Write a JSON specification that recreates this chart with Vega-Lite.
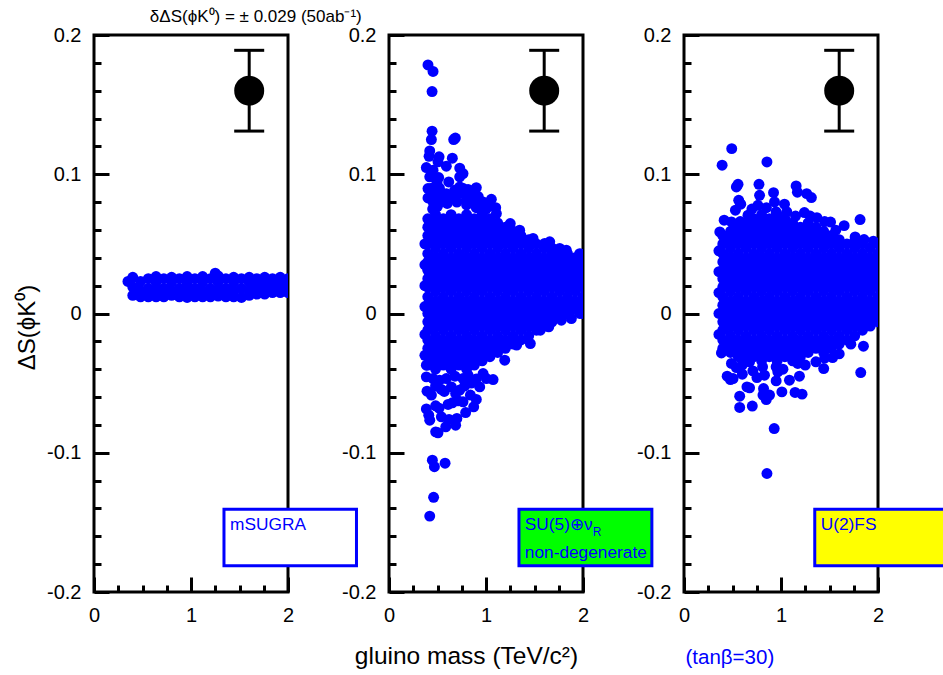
{"$schema":"https://vega.github.io/schema/vega-lite/v6.json","background":"white","padding":{"left":13,"top":6,"right":0,"bottom":0},"spacing":101,"bounds":"flush","config":{"view":{"stroke":"black","strokeWidth":3},"font":"Liberation Sans","axis":{"labelFont":"Liberation Sans","titleFont":"Liberation Sans","labelFontSize":20,"labelColor":"black","tickColor":"black","tickWidth":3,"tickCount":50,"domain":false,"grid":false,"labelOverlap":false,"labelFlush":false,"titleFontWeight":"normal"},"text":{"font":"Liberation Sans","baseline":"alphabetic","align":"left"}},"datasets":{"marker":[{"m":1.6,"s":0.16,"lo":0.131,"hi":0.189}],
"p1":[{"m":0.35,"s":0.023},{"m":0.4,"s":0.013},{"m":0.4,"s":0.019},{"m":0.4,"s":0.026},{"m":0.48,"s":0.012},{"m":0.48,"s":0.0165},{"m":0.48,"s":0.023},{"m":0.56,"s":0.012},{"m":0.56,"s":0.018},{"m":0.56,"s":0.025},{"m":0.64,"s":0.012},{"m":0.64,"s":0.0165},{"m":0.64,"s":0.0225},{"m":0.64,"s":0.0265},{"m":0.72,"s":0.012},{"m":0.72,"s":0.018},{"m":0.72,"s":0.025},{"m":0.8,"s":0.013},{"m":0.8,"s":0.0165},{"m":0.8,"s":0.0225},{"m":0.8,"s":0.026},{"m":0.88,"s":0.012},{"m":0.88,"s":0.018},{"m":0.88,"s":0.025},{"m":0.96,"s":0.0115},{"m":0.96,"s":0.0165},{"m":0.96,"s":0.022},{"m":0.96,"s":0.0265},{"m":1.04,"s":0.012},{"m":1.04,"s":0.018},{"m":1.04,"s":0.025},{"m":1.12,"s":0.012},{"m":1.12,"s":0.0165},{"m":1.12,"s":0.0225},{"m":1.12,"s":0.0265},{"m":1.2,"s":0.012},{"m":1.2,"s":0.018},{"m":1.2,"s":0.025},{"m":1.25,"s":0.029},{"m":1.28,"s":0.0125},{"m":1.28,"s":0.0165},{"m":1.28,"s":0.0225},{"m":1.28,"s":0.027},{"m":1.36,"s":0.012},{"m":1.36,"s":0.018},{"m":1.36,"s":0.025},{"m":1.44,"s":0.012},{"m":1.44,"s":0.0165},{"m":1.44,"s":0.0225},{"m":1.44,"s":0.026},{"m":1.52,"s":0.0115},{"m":1.52,"s":0.018},{"m":1.52,"s":0.025},{"m":1.6,"s":0.013},{"m":1.6,"s":0.0165},{"m":1.6,"s":0.0225},{"m":1.6,"s":0.026},{"m":1.68,"s":0.014},{"m":1.68,"s":0.019},{"m":1.68,"s":0.025},{"m":1.76,"s":0.014},{"m":1.76,"s":0.0185},{"m":1.76,"s":0.023},{"m":1.76,"s":0.026},{"m":1.84,"s":0.015},{"m":1.84,"s":0.02},{"m":1.84,"s":0.025},{"m":1.92,"s":0.015},{"m":1.92,"s":0.0185},{"m":1.92,"s":0.023},{"m":1.92,"s":0.026},{"m":2,"s":0.015},{"m":2,"s":0.02},{"m":2,"s":0.025}],
"p2":[{"m":0.37,"s":-0.03},{"m":0.37,"s":-0.015},{"m":0.37,"s":0.005},{"m":0.37,"s":0.02},{"m":0.37,"s":0.035},{"m":0.37,"s":0.05},
{"m":0.4,"s":-0.037},{"m":0.4,"s":-0.031},{"m":0.4,"s":-0.025},{"m":0.4,"s":-0.019},{"m":0.4,"s":-0.012},{"m":0.4,"s":-0.006},{"m":0.4,"s":0},{"m":0.4,"s":0.006},{"m":0.4,"s":0.012},{"m":0.4,"s":0.019},{"m":0.4,"s":0.025},{"m":0.4,"s":0.031},{"m":0.4,"s":0.037},{"m":0.4,"s":0.043},{"m":0.4,"s":0.05},{"m":0.4,"s":0.056},{"m":0.4,"s":0.062},{"m":0.4,"s":0.068},
{"m":0.48,"s":-0.04},{"m":0.48,"s":-0.034},{"m":0.48,"s":-0.028},{"m":0.48,"s":-0.022},{"m":0.48,"s":-0.016},{"m":0.48,"s":-0.009},{"m":0.48,"s":-0.003},{"m":0.48,"s":0.003},{"m":0.48,"s":0.009},{"m":0.48,"s":0.016},{"m":0.48,"s":0.022},{"m":0.48,"s":0.028},{"m":0.48,"s":0.034},{"m":0.48,"s":0.04},{"m":0.48,"s":0.047},{"m":0.48,"s":0.053},{"m":0.48,"s":0.059},{"m":0.48,"s":0.065},{"m":0.48,"s":0.071},
{"m":0.56,"s":-0.037},{"m":0.56,"s":-0.031},{"m":0.56,"s":-0.025},{"m":0.56,"s":-0.019},{"m":0.56,"s":-0.012},{"m":0.56,"s":-0.006},{"m":0.56,"s":0},{"m":0.56,"s":0.006},{"m":0.56,"s":0.012},{"m":0.56,"s":0.019},{"m":0.56,"s":0.025},{"m":0.56,"s":0.031},{"m":0.56,"s":0.037},{"m":0.56,"s":0.043},{"m":0.56,"s":0.05},{"m":0.56,"s":0.056},{"m":0.56,"s":0.062},{"m":0.56,"s":0.068},
{"m":0.64,"s":-0.04},{"m":0.64,"s":-0.034},{"m":0.64,"s":-0.028},{"m":0.64,"s":-0.022},{"m":0.64,"s":-0.016},{"m":0.64,"s":-0.009},{"m":0.64,"s":-0.003},{"m":0.64,"s":0.003},{"m":0.64,"s":0.009},{"m":0.64,"s":0.016},{"m":0.64,"s":0.022},{"m":0.64,"s":0.028},{"m":0.64,"s":0.034},{"m":0.64,"s":0.04},{"m":0.64,"s":0.047},{"m":0.64,"s":0.053},{"m":0.64,"s":0.059},{"m":0.64,"s":0.065},{"m":0.64,"s":0.071},
{"m":0.72,"s":-0.037},{"m":0.72,"s":-0.031},{"m":0.72,"s":-0.025},{"m":0.72,"s":-0.019},{"m":0.72,"s":-0.012},{"m":0.72,"s":-0.006},{"m":0.72,"s":0},{"m":0.72,"s":0.006},{"m":0.72,"s":0.012},{"m":0.72,"s":0.019},{"m":0.72,"s":0.025},{"m":0.72,"s":0.031},{"m":0.72,"s":0.037},{"m":0.72,"s":0.043},{"m":0.72,"s":0.05},{"m":0.72,"s":0.056},{"m":0.72,"s":0.062},{"m":0.72,"s":0.068},
{"m":0.8,"s":-0.04},{"m":0.8,"s":-0.034},{"m":0.8,"s":-0.028},{"m":0.8,"s":-0.022},{"m":0.8,"s":-0.016},{"m":0.8,"s":-0.009},{"m":0.8,"s":-0.003},{"m":0.8,"s":0.003},{"m":0.8,"s":0.009},{"m":0.8,"s":0.016},{"m":0.8,"s":0.022},{"m":0.8,"s":0.028},{"m":0.8,"s":0.034},{"m":0.8,"s":0.04},{"m":0.8,"s":0.047},{"m":0.8,"s":0.053},{"m":0.8,"s":0.059},{"m":0.8,"s":0.065},{"m":0.8,"s":0.071},
{"m":0.88,"s":-0.037},{"m":0.88,"s":-0.031},{"m":0.88,"s":-0.025},{"m":0.88,"s":-0.019},{"m":0.88,"s":-0.012},{"m":0.88,"s":-0.006},{"m":0.88,"s":0},{"m":0.88,"s":0.006},{"m":0.88,"s":0.012},{"m":0.88,"s":0.019},{"m":0.88,"s":0.025},{"m":0.88,"s":0.031},{"m":0.88,"s":0.037},{"m":0.88,"s":0.043},{"m":0.88,"s":0.05},{"m":0.88,"s":0.056},{"m":0.88,"s":0.062},{"m":0.88,"s":0.068},
{"m":0.96,"s":-0.034},{"m":0.96,"s":-0.028},{"m":0.96,"s":-0.022},{"m":0.96,"s":-0.016},{"m":0.96,"s":-0.009},{"m":0.96,"s":-0.003},{"m":0.96,"s":0.003},{"m":0.96,"s":0.009},{"m":0.96,"s":0.016},{"m":0.96,"s":0.022},{"m":0.96,"s":0.028},{"m":0.96,"s":0.034},{"m":0.96,"s":0.04},{"m":0.96,"s":0.047},{"m":0.96,"s":0.053},{"m":0.96,"s":0.059},{"m":0.96,"s":0.065},{"m":0.96,"s":0.071},
{"m":1.04,"s":-0.031},{"m":1.04,"s":-0.025},{"m":1.04,"s":-0.019},{"m":1.04,"s":-0.012},{"m":1.04,"s":-0.006},{"m":1.04,"s":0},{"m":1.04,"s":0.006},{"m":1.04,"s":0.012},{"m":1.04,"s":0.019},{"m":1.04,"s":0.025},{"m":1.04,"s":0.031},{"m":1.04,"s":0.037},{"m":1.04,"s":0.043},{"m":1.04,"s":0.05},{"m":1.04,"s":0.056},{"m":1.04,"s":0.062},{"m":1.04,"s":0.068},
{"m":1.12,"s":-0.028},{"m":1.12,"s":-0.022},{"m":1.12,"s":-0.016},{"m":1.12,"s":-0.009},{"m":1.12,"s":-0.003},{"m":1.12,"s":0.003},{"m":1.12,"s":0.009},{"m":1.12,"s":0.016},{"m":1.12,"s":0.022},{"m":1.12,"s":0.028},{"m":1.12,"s":0.034},{"m":1.12,"s":0.04},{"m":1.12,"s":0.047},{"m":1.12,"s":0.053},{"m":1.12,"s":0.059},{"m":1.12,"s":0.065},
{"m":1.2,"s":-0.025},{"m":1.2,"s":-0.019},{"m":1.2,"s":-0.012},{"m":1.2,"s":-0.006},{"m":1.2,"s":0},{"m":1.2,"s":0.006},{"m":1.2,"s":0.012},{"m":1.2,"s":0.019},{"m":1.2,"s":0.025},{"m":1.2,"s":0.031},{"m":1.2,"s":0.037},{"m":1.2,"s":0.043},{"m":1.2,"s":0.05},{"m":1.2,"s":0.056},{"m":1.2,"s":0.062},
{"m":1.28,"s":-0.022},{"m":1.28,"s":-0.016},{"m":1.28,"s":-0.009},{"m":1.28,"s":-0.003},{"m":1.28,"s":0.003},{"m":1.28,"s":0.009},{"m":1.28,"s":0.016},{"m":1.28,"s":0.022},{"m":1.28,"s":0.028},{"m":1.28,"s":0.034},{"m":1.28,"s":0.04},{"m":1.28,"s":0.047},{"m":1.28,"s":0.053},{"m":1.28,"s":0.059},
{"m":1.36,"s":-0.019},{"m":1.36,"s":-0.012},{"m":1.36,"s":-0.006},{"m":1.36,"s":0},{"m":1.36,"s":0.006},{"m":1.36,"s":0.012},{"m":1.36,"s":0.019},{"m":1.36,"s":0.025},{"m":1.36,"s":0.031},{"m":1.36,"s":0.037},{"m":1.36,"s":0.043},{"m":1.36,"s":0.05},{"m":1.36,"s":0.056},
{"m":1.44,"s":-0.016},{"m":1.44,"s":-0.009},{"m":1.44,"s":-0.003},{"m":1.44,"s":0.003},{"m":1.44,"s":0.009},{"m":1.44,"s":0.016},{"m":1.44,"s":0.022},{"m":1.44,"s":0.028},{"m":1.44,"s":0.034},{"m":1.44,"s":0.04},{"m":1.44,"s":0.047},{"m":1.44,"s":0.053},
{"m":1.52,"s":-0.012},{"m":1.52,"s":-0.006},{"m":1.52,"s":0},{"m":1.52,"s":0.006},{"m":1.52,"s":0.012},{"m":1.52,"s":0.019},{"m":1.52,"s":0.025},{"m":1.52,"s":0.031},{"m":1.52,"s":0.037},{"m":1.52,"s":0.043},{"m":1.52,"s":0.05},
{"m":1.6,"s":-0.009},{"m":1.6,"s":-0.003},{"m":1.6,"s":0.003},{"m":1.6,"s":0.009},{"m":1.6,"s":0.016},{"m":1.6,"s":0.022},{"m":1.6,"s":0.028},{"m":1.6,"s":0.034},{"m":1.6,"s":0.04},{"m":1.6,"s":0.047},
{"m":1.68,"s":-0.006},{"m":1.68,"s":0},{"m":1.68,"s":0.006},{"m":1.68,"s":0.012},{"m":1.68,"s":0.019},{"m":1.68,"s":0.025},{"m":1.68,"s":0.031},{"m":1.68,"s":0.037},{"m":1.68,"s":0.043},{"m":1.68,"s":0.047},
{"m":1.76,"s":-0.003},{"m":1.76,"s":0.003},{"m":1.76,"s":0.009},{"m":1.76,"s":0.016},{"m":1.76,"s":0.022},{"m":1.76,"s":0.028},{"m":1.76,"s":0.034},{"m":1.76,"s":0.04},{"m":1.76,"s":0.045},
{"m":1.84,"s":0},{"m":1.84,"s":0.006},{"m":1.84,"s":0.012},{"m":1.84,"s":0.019},{"m":1.84,"s":0.025},{"m":1.84,"s":0.031},{"m":1.84,"s":0.037},{"m":1.84,"s":0.043},
{"m":1.92,"s":0.003},{"m":1.92,"s":0.009},{"m":1.92,"s":0.016},{"m":1.92,"s":0.022},{"m":1.92,"s":0.028},{"m":1.92,"s":0.034},{"m":1.92,"s":0.04},
{"m":2,"s":0},{"m":2,"s":0.006},{"m":2,"s":0.012},{"m":2,"s":0.019},{"m":2,"s":0.025},{"m":2,"s":0.031},{"m":2,"s":0.037},{"m":2,"s":0.042},
{"m":0.402,"s":0.1785},{"m":0.454,"s":0.1738},{"m":0.444,"s":0.1594},{"m":0.444,"s":0.1309},{"m":0.437,"s":0.1249},{"m":0.667,"s":0.1249},{"m":0.684,"s":0.126},{"m":0.42,"s":0.1167},{"m":0.413,"s":0.1129},{"m":0.516,"s":0.1125},{"m":0.505,"s":0.1089},{"m":0.653,"s":0.1115},{"m":0.591,"s":0.1058},{"m":0.385,"s":0.1048},{"m":0.729,"s":0.1044},{"m":0.763,"s":0.1005},{"m":0.454,"s":0.1029},{"m":0.512,"s":0.0976},{"m":0.495,"s":0.0938},{"m":0.729,"s":0.0982},{"m":0.616,"s":0.0945},{"m":0.42,"s":0.0982},{"m":0.402,"s":0.0897},{"m":0.402,"s":0.083},{"m":0.9,"s":0.0904},{"m":0.815,"s":0.0891},{"m":0.883,"s":0.0856},{"m":1.055,"s":0.082},{"m":0.97,"s":0.08},{"m":0.9,"s":0.08},{"m":0.677,"s":0.0885},{"m":0.591,"s":0.0861},{"m":0.729,"s":0.0909},{"m":0.522,"s":0.0825},{"m":0.454,"s":0.08},{"m":0.797,"s":0.0813},{"m":1.107,"s":0.0718},{"m":1.25,"s":0.0646},{"m":1.347,"s":0.0598},{"m":1.485,"s":0.0539},{"m":1.657,"s":0.0515},{"m":1.605,"s":0.0503},{"m":1.76,"s":0.0467},{"m":1.828,"s":0.0455},{"m":1.966,"s":0.043},{"m":0.5,"s":0.077},{"m":0.6,"s":0.079},{"m":0.7,"s":0.08},{"m":0.8,"s":0.078},{"m":0.9,"s":0.076},{"m":1,"s":0.075},{"m":0.45,"s":0.075},
{"m":0.46,"s":0.086},{"m":0.52,"s":0.09},{"m":0.56,"s":0.082},{"m":0.64,"s":0.083},{"m":0.72,"s":0.086},{"m":0.76,"s":0.09},{"m":0.8,"s":0.084},{"m":0.86,"s":0.08},{"m":0.92,"s":0.084},{"m":0.96,"s":0.076},{"m":1.03,"s":0.077},{"m":1.1,"s":0.076},{"m":0.5,"s":0.086},{"m":0.44,"s":0.09},
{"m":0.42,"s":-0.1455},{"m":0.46,"s":-0.132},{"m":0.447,"s":-0.1053},{"m":0.468,"s":-0.11},{"m":0.578,"s":-0.1075},{"m":0.505,"s":-0.0857},{"m":0.481,"s":-0.085},{"m":0.585,"s":-0.0814},{"m":0.687,"s":-0.0802},{"m":0.7,"s":-0.0754},{"m":0.619,"s":-0.0761},{"m":0.54,"s":-0.0742},{"m":0.42,"s":-0.0766},{"m":0.41,"s":-0.073},{"m":0.385,"s":-0.0685},{"m":0.481,"s":-0.0663},{"m":0.516,"s":-0.068},{"m":0.79,"s":-0.0711},{"m":0.873,"s":-0.067},{"m":0.609,"s":-0.0653},{"m":0.653,"s":-0.0641},{"m":0.9,"s":-0.0617},{"m":0.839,"s":-0.0586},{"m":0.763,"s":-0.0634},{"m":0.712,"s":-0.0627},{"m":0.687,"s":-0.0574},{"m":0.729,"s":-0.055},{"m":0.437,"s":-0.0586},{"m":0.392,"s":-0.0558},{"m":0.54,"s":-0.0545},{"m":0.643,"s":-0.0527},{"m":0.935,"s":-0.0527},{"m":1.073,"s":-0.0474},{"m":1.004,"s":-0.0467},{"m":0.97,"s":-0.0431},{"m":0.522,"s":-0.0479},{"m":0.385,"s":-0.0455},{"m":0.385,"s":-0.0371},{"m":0.763,"s":-0.0467},{"m":0.815,"s":-0.0443},{"m":0.591,"s":-0.0467},{"m":0.454,"s":-0.0467},{"m":1.193,"s":-0.0335},{"m":1.457,"s":-0.0216},{"m":1.316,"s":-0.0227},{"m":1.647,"s":-0.0096},{"m":1.56,"s":-0.012},{"m":1.777,"s":-0.0048},{"m":1.88,"s":-0.0036},{"m":1.966,"s":0},
{"m":0.68,"s":-0.045},{"m":0.85,"s":-0.05},{"m":0.9,"s":-0.047},{"m":0.78,"s":-0.052},{"m":0.48,"s":-0.052},{"m":0.57,"s":-0.056}],
"p3":[{"m":0.36,"s":-0.015},{"m":0.36,"s":0},{"m":0.36,"s":0.015},{"m":0.36,"s":0.03},{"m":0.36,"s":0.045},
{"m":0.4,"s":-0.025},{"m":0.4,"s":-0.019},{"m":0.4,"s":-0.012},{"m":0.4,"s":-0.006},{"m":0.4,"s":0},{"m":0.4,"s":0.006},{"m":0.4,"s":0.012},{"m":0.4,"s":0.019},{"m":0.4,"s":0.025},{"m":0.4,"s":0.031},{"m":0.4,"s":0.037},{"m":0.4,"s":0.043},{"m":0.4,"s":0.05},{"m":0.4,"s":0.056},
{"m":0.48,"s":-0.028},{"m":0.48,"s":-0.022},{"m":0.48,"s":-0.016},{"m":0.48,"s":-0.009},{"m":0.48,"s":-0.003},{"m":0.48,"s":0.003},{"m":0.48,"s":0.009},{"m":0.48,"s":0.016},{"m":0.48,"s":0.022},{"m":0.48,"s":0.028},{"m":0.48,"s":0.034},{"m":0.48,"s":0.04},{"m":0.48,"s":0.047},{"m":0.48,"s":0.053},{"m":0.48,"s":0.059},
{"m":0.56,"s":-0.031},{"m":0.56,"s":-0.025},{"m":0.56,"s":-0.019},{"m":0.56,"s":-0.012},{"m":0.56,"s":-0.006},{"m":0.56,"s":0},{"m":0.56,"s":0.006},{"m":0.56,"s":0.012},{"m":0.56,"s":0.019},{"m":0.56,"s":0.025},{"m":0.56,"s":0.031},{"m":0.56,"s":0.037},{"m":0.56,"s":0.043},{"m":0.56,"s":0.05},{"m":0.56,"s":0.056},{"m":0.56,"s":0.062},
{"m":0.64,"s":-0.034},{"m":0.64,"s":-0.028},{"m":0.64,"s":-0.022},{"m":0.64,"s":-0.016},{"m":0.64,"s":-0.009},{"m":0.64,"s":-0.003},{"m":0.64,"s":0.003},{"m":0.64,"s":0.009},{"m":0.64,"s":0.016},{"m":0.64,"s":0.022},{"m":0.64,"s":0.028},{"m":0.64,"s":0.034},{"m":0.64,"s":0.04},{"m":0.64,"s":0.047},{"m":0.64,"s":0.053},{"m":0.64,"s":0.059},{"m":0.64,"s":0.065},
{"m":0.72,"s":-0.031},{"m":0.72,"s":-0.025},{"m":0.72,"s":-0.019},{"m":0.72,"s":-0.012},{"m":0.72,"s":-0.006},{"m":0.72,"s":0},{"m":0.72,"s":0.006},{"m":0.72,"s":0.012},{"m":0.72,"s":0.019},{"m":0.72,"s":0.025},{"m":0.72,"s":0.031},{"m":0.72,"s":0.037},{"m":0.72,"s":0.043},{"m":0.72,"s":0.05},{"m":0.72,"s":0.056},{"m":0.72,"s":0.062},{"m":0.72,"s":0.068},
{"m":0.8,"s":-0.034},{"m":0.8,"s":-0.028},{"m":0.8,"s":-0.022},{"m":0.8,"s":-0.016},{"m":0.8,"s":-0.009},{"m":0.8,"s":-0.003},{"m":0.8,"s":0.003},{"m":0.8,"s":0.009},{"m":0.8,"s":0.016},{"m":0.8,"s":0.022},{"m":0.8,"s":0.028},{"m":0.8,"s":0.034},{"m":0.8,"s":0.04},{"m":0.8,"s":0.047},{"m":0.8,"s":0.053},{"m":0.8,"s":0.059},{"m":0.8,"s":0.065},{"m":0.8,"s":0.071},
{"m":0.88,"s":-0.031},{"m":0.88,"s":-0.025},{"m":0.88,"s":-0.019},{"m":0.88,"s":-0.012},{"m":0.88,"s":-0.006},{"m":0.88,"s":0},{"m":0.88,"s":0.006},{"m":0.88,"s":0.012},{"m":0.88,"s":0.019},{"m":0.88,"s":0.025},{"m":0.88,"s":0.031},{"m":0.88,"s":0.037},{"m":0.88,"s":0.043},{"m":0.88,"s":0.05},{"m":0.88,"s":0.056},{"m":0.88,"s":0.062},{"m":0.88,"s":0.068},
{"m":0.96,"s":-0.034},{"m":0.96,"s":-0.028},{"m":0.96,"s":-0.022},{"m":0.96,"s":-0.016},{"m":0.96,"s":-0.009},{"m":0.96,"s":-0.003},{"m":0.96,"s":0.003},{"m":0.96,"s":0.009},{"m":0.96,"s":0.016},{"m":0.96,"s":0.022},{"m":0.96,"s":0.028},{"m":0.96,"s":0.034},{"m":0.96,"s":0.04},{"m":0.96,"s":0.047},{"m":0.96,"s":0.053},{"m":0.96,"s":0.059},{"m":0.96,"s":0.065},{"m":0.96,"s":0.071},
{"m":1.04,"s":-0.031},{"m":1.04,"s":-0.025},{"m":1.04,"s":-0.019},{"m":1.04,"s":-0.012},{"m":1.04,"s":-0.006},{"m":1.04,"s":0},{"m":1.04,"s":0.006},{"m":1.04,"s":0.012},{"m":1.04,"s":0.019},{"m":1.04,"s":0.025},{"m":1.04,"s":0.031},{"m":1.04,"s":0.037},{"m":1.04,"s":0.043},{"m":1.04,"s":0.05},{"m":1.04,"s":0.056},{"m":1.04,"s":0.062},{"m":1.04,"s":0.068},
{"m":1.12,"s":-0.034},{"m":1.12,"s":-0.028},{"m":1.12,"s":-0.022},{"m":1.12,"s":-0.016},{"m":1.12,"s":-0.009},{"m":1.12,"s":-0.003},{"m":1.12,"s":0.003},{"m":1.12,"s":0.009},{"m":1.12,"s":0.016},{"m":1.12,"s":0.022},{"m":1.12,"s":0.028},{"m":1.12,"s":0.034},{"m":1.12,"s":0.04},{"m":1.12,"s":0.047},{"m":1.12,"s":0.053},{"m":1.12,"s":0.059},{"m":1.12,"s":0.065},
{"m":1.2,"s":-0.031},{"m":1.2,"s":-0.025},{"m":1.2,"s":-0.019},{"m":1.2,"s":-0.012},{"m":1.2,"s":-0.006},{"m":1.2,"s":0},{"m":1.2,"s":0.006},{"m":1.2,"s":0.012},{"m":1.2,"s":0.019},{"m":1.2,"s":0.025},{"m":1.2,"s":0.031},{"m":1.2,"s":0.037},{"m":1.2,"s":0.043},{"m":1.2,"s":0.05},{"m":1.2,"s":0.056},{"m":1.2,"s":0.062},
{"m":1.28,"s":-0.028},{"m":1.28,"s":-0.022},{"m":1.28,"s":-0.016},{"m":1.28,"s":-0.009},{"m":1.28,"s":-0.003},{"m":1.28,"s":0.003},{"m":1.28,"s":0.009},{"m":1.28,"s":0.016},{"m":1.28,"s":0.022},{"m":1.28,"s":0.028},{"m":1.28,"s":0.034},{"m":1.28,"s":0.04},{"m":1.28,"s":0.047},{"m":1.28,"s":0.053},{"m":1.28,"s":0.059},{"m":1.28,"s":0.065},
{"m":1.36,"s":-0.025},{"m":1.36,"s":-0.019},{"m":1.36,"s":-0.012},{"m":1.36,"s":-0.006},{"m":1.36,"s":0},{"m":1.36,"s":0.006},{"m":1.36,"s":0.012},{"m":1.36,"s":0.019},{"m":1.36,"s":0.025},{"m":1.36,"s":0.031},{"m":1.36,"s":0.037},{"m":1.36,"s":0.043},{"m":1.36,"s":0.05},{"m":1.36,"s":0.056},{"m":1.36,"s":0.062},
{"m":1.44,"s":-0.028},{"m":1.44,"s":-0.022},{"m":1.44,"s":-0.016},{"m":1.44,"s":-0.009},{"m":1.44,"s":-0.003},{"m":1.44,"s":0.003},{"m":1.44,"s":0.009},{"m":1.44,"s":0.016},{"m":1.44,"s":0.022},{"m":1.44,"s":0.028},{"m":1.44,"s":0.034},{"m":1.44,"s":0.04},{"m":1.44,"s":0.047},{"m":1.44,"s":0.053},{"m":1.44,"s":0.059},
{"m":1.52,"s":-0.025},{"m":1.52,"s":-0.019},{"m":1.52,"s":-0.012},{"m":1.52,"s":-0.006},{"m":1.52,"s":0},{"m":1.52,"s":0.006},{"m":1.52,"s":0.012},{"m":1.52,"s":0.019},{"m":1.52,"s":0.025},{"m":1.52,"s":0.031},{"m":1.52,"s":0.037},{"m":1.52,"s":0.043},{"m":1.52,"s":0.05},{"m":1.52,"s":0.056},
{"m":1.6,"s":-0.022},{"m":1.6,"s":-0.016},{"m":1.6,"s":-0.009},{"m":1.6,"s":-0.003},{"m":1.6,"s":0.003},{"m":1.6,"s":0.009},{"m":1.6,"s":0.016},{"m":1.6,"s":0.022},{"m":1.6,"s":0.028},{"m":1.6,"s":0.034},{"m":1.6,"s":0.04},{"m":1.6,"s":0.047},{"m":1.6,"s":0.053},
{"m":1.68,"s":-0.019},{"m":1.68,"s":-0.012},{"m":1.68,"s":-0.006},{"m":1.68,"s":0},{"m":1.68,"s":0.006},{"m":1.68,"s":0.012},{"m":1.68,"s":0.019},{"m":1.68,"s":0.025},{"m":1.68,"s":0.031},{"m":1.68,"s":0.037},{"m":1.68,"s":0.043},{"m":1.68,"s":0.05},
{"m":1.76,"s":-0.016},{"m":1.76,"s":-0.009},{"m":1.76,"s":-0.003},{"m":1.76,"s":0.003},{"m":1.76,"s":0.009},{"m":1.76,"s":0.016},{"m":1.76,"s":0.022},{"m":1.76,"s":0.028},{"m":1.76,"s":0.034},{"m":1.76,"s":0.04},{"m":1.76,"s":0.047},{"m":1.76,"s":0.052},
{"m":1.84,"s":-0.012},{"m":1.84,"s":-0.006},{"m":1.84,"s":0},{"m":1.84,"s":0.006},{"m":1.84,"s":0.012},{"m":1.84,"s":0.019},{"m":1.84,"s":0.025},{"m":1.84,"s":0.031},{"m":1.84,"s":0.037},{"m":1.84,"s":0.043},{"m":1.84,"s":0.05},
{"m":1.92,"s":-0.009},{"m":1.92,"s":-0.003},{"m":1.92,"s":0.003},{"m":1.92,"s":0.009},{"m":1.92,"s":0.016},{"m":1.92,"s":0.022},{"m":1.92,"s":0.028},{"m":1.92,"s":0.034},{"m":1.92,"s":0.04},{"m":1.92,"s":0.047},
{"m":2,"s":-0.006},{"m":2,"s":0},{"m":2,"s":0.006},{"m":2,"s":0.012},{"m":2,"s":0.019},{"m":2,"s":0.025},{"m":2,"s":0.031},{"m":2,"s":0.037},{"m":2,"s":0.043},{"m":2,"s":0.05},
{"m":0.492,"s":0.1184},{"m":0.393,"s":0.1065},{"m":0.855,"s":0.1088},{"m":0.557,"s":0.0928},{"m":0.54,"s":0.0909},{"m":0.773,"s":0.0928},{"m":0.923,"s":0.0868},{"m":1.156,"s":0.0916},{"m":1.169,"s":0.0871},{"m":1.265,"s":0.0861},{"m":1.313,"s":0.0833},{"m":0.779,"s":0.0849},{"m":0.564,"s":0.0813},{"m":0.585,"s":0.0785},{"m":0.53,"s":0.0742},{"m":0.933,"s":0.0801},{"m":1.036,"s":0.0785},{"m":1.06,"s":0.073},{"m":1.241,"s":0.0725},{"m":0.762,"s":0.0777},{"m":1.815,"s":0.0675},{"m":1.651,"s":0.0631},{"m":1.511,"s":0.0657},{"m":1.37,"s":0.0688},{"m":1.565,"s":0.0598},{"m":1.764,"s":0.055},{"m":1.856,"s":0.0531},{"m":1.952,"s":0.0519},{"m":0.414,"s":0.067},{"m":0.369,"s":0.0586},{"m":0.66,"s":0.0706},{"m":0.489,"s":0.0658},
{"m":0.7,"s":0.075},{"m":0.85,"s":0.076},{"m":0.95,"s":0.073},{"m":1.15,"s":0.07},{"m":1.3,"s":0.07},{"m":1.45,"s":0.066},{"m":0.58,"s":0.066},
{"m":0.855,"s":-0.1149},{"m":0.93,"s":-0.0826},{"m":0.574,"s":-0.0675},{"m":0.704,"s":-0.0665},{"m":0.574,"s":-0.0594},{"m":0.649,"s":-0.0527},{"m":0.676,"s":-0.0534},{"m":0.848,"s":-0.0618},{"m":0.82,"s":-0.0539},{"m":0.882,"s":-0.0586},{"m":0.814,"s":-0.0586},{"m":1.009,"s":-0.0563},{"m":0.95,"s":-0.0484},{"m":1.145,"s":-0.0567},{"m":1.217,"s":-0.0579},{"m":0.445,"s":-0.045},{"m":0.506,"s":-0.0467},{"m":0.479,"s":-0.0474},{"m":0.601,"s":-0.0436},{"m":0.752,"s":-0.046},{"m":0.83,"s":-0.0443},{"m":1.087,"s":-0.0479},{"m":1.19,"s":-0.045},{"m":0.967,"s":-0.0419},{"m":1.44,"s":-0.0395},{"m":1.822,"s":-0.0424},{"m":1.85,"s":-0.0235},{"m":1.72,"s":-0.022},{"m":1.6,"s":-0.029},{"m":1.532,"s":-0.0316},{"m":1.36,"s":-0.0347},{"m":1.173,"s":-0.0359},{"m":0.386,"s":-0.0283},{"m":0.489,"s":-0.0359},{"m":0.54,"s":-0.0388},{"m":0.71,"s":-0.0412},{"m":0.81,"s":-0.0383},{"m":0.95,"s":-0.0383},{"m":0.676,"s":-0.0347},
{"m":0.6,"s":-0.037},{"m":1.02,"s":-0.04},{"m":1.25,"s":-0.037},{"m":1.45,"s":-0.032}],
"box1":[{"m":1.34,"m2":2.706,"s":-0.1405,"s2":-0.1812}],"lab1":[{"m":1.403,"s":-0.1556,"t":"mSUGRA"}],"top":[{"m":0.576,"s":0.2091,"t":"δΔS(ϕK⁰) = ± 0.029 (50ab⁻¹)"}],"box2":[{"m":1.34,"m2":2.71,"s":-0.1405,"s2":-0.1812}],"lab2":[{"m":1.4,"s":-0.1556,"t":"SU(5)⊕ν"},{"m":1.4,"s":-0.1759,"t":"non-degenerate"}],"sub2":[{"m":2.1,"s":-0.16,"t":"R"}],"box3":[{"m":1.348,"m2":2.72,"s":-0.1405,"s2":-0.1812}],"lab3":[{"m":1.41,"s":-0.1556,"t":"U(2)FS"}]},
"hconcat":[
{"width":194,"height":557,"layer":[{"data":{"name":"p1"},"mark":{"type":"circle","size":120,"opacity":1,"color":"#0000ff","clip":true},"encoding":{"x":{"field":"m","type":"quantitative","scale":{"domain":[0,2],"nice":false,"zero":false},"axis":{"orient":"bottom","values":[0,1,2],"tickSize":-15,"labelPadding":28,"format":".0f","title":null}},"y":{"field":"s","type":"quantitative","scale":{"domain":[-0.2,0.2],"nice":false,"zero":false},"axis":{"orient":"left","values":[-0.2,-0.1,0,0.1,0.2],"tickSize":-15,"labelPadding":28,"labelExpr":"datum.value==0?'0':(datum.value<0?'-':'')+format(abs(datum.value),'.1f')","title":"ΔS(ϕK⁰)","titleFontSize":24,"titleColor":"black","titleX":-60,"titleY":292,"titleAngle":270,"titleBaseline":"alphabetic","titleAlign":"center"}}}},{"data":{"name":"marker"},"mark":{"type":"rule","color":"black","strokeWidth":3},"encoding":{"x":{"field":"m","type":"quantitative","axis":{"orient":"bottom","values":[0.25,0.5,0.75,1.25,1.5,1.75],"tickSize":-7,"labels":false,"title":null}},"y":{"field":"lo","type":"quantitative","axis":{"orient":"left","values":[-0.18,-0.16,-0.14,-0.12,-0.08,-0.06,-0.04,-0.02,0.02,0.04,0.06,0.08,0.12,0.14,0.16,0.18],"tickSize":-7,"labels":false,"title":null}},"y2":{"field":"hi"}}},{"data":{"name":"marker"},"mark":{"type":"tick","orient":"horizontal","color":"black","size":30,"thickness":3,"opacity":1},"encoding":{"x":{"field":"m","type":"quantitative","axis":null},"y":{"field":"lo","type":"quantitative","axis":null}}},{"data":{"name":"marker"},"mark":{"type":"tick","orient":"horizontal","color":"black","size":30,"thickness":3,"opacity":1},"encoding":{"x":{"field":"m","type":"quantitative","axis":null},"y":{"field":"hi","type":"quantitative","axis":null}}},{"data":{"name":"marker"},"mark":{"type":"circle","size":900,"opacity":1,"color":"black"},"encoding":{"x":{"field":"m","type":"quantitative","axis":null},"y":{"field":"s","type":"quantitative","axis":null}}},{"data":{"name":"box1"},"mark":{"type":"rect","fill":"white","stroke":"#0000ff","strokeWidth":3},"encoding":{"x":{"field":"m","type":"quantitative","axis":null},"x2":{"field":"m2"},"y":{"field":"s","type":"quantitative","axis":null},"y2":{"field":"s2"}}},{"data":{"name":"lab1"},"mark":{"type":"text","fontSize":17.3,"color":"#0000ff"},"encoding":{"x":{"field":"m","type":"quantitative","axis":null},"y":{"field":"s","type":"quantitative","axis":null},"text":{"field":"t"}}},{"data":{"name":"top"},"mark":{"type":"text","fontSize":17,"color":"black"},"encoding":{"x":{"field":"m","type":"quantitative","axis":null},"y":{"field":"s","type":"quantitative","axis":null},"text":{"field":"t"}}}],"resolve":{"axis":{"x":"independent","y":"independent"}}},
{"width":194,"height":557,"layer":[{"data":{"name":"p2"},"mark":{"type":"circle","size":120,"opacity":1,"color":"#0000ff","clip":true},"encoding":{"x":{"field":"m","type":"quantitative","scale":{"domain":[0,2],"nice":false,"zero":false},"axis":{"orient":"bottom","values":[0,1,2],"tickSize":-15,"labelPadding":28,"format":".0f","title":"gluino mass (TeV/c²)","titleFontSize":24.5,"titleColor":"black","titleX":77,"titleY":71,"titleBaseline":"alphabetic","titleAlign":"center"}},"y":{"field":"s","type":"quantitative","scale":{"domain":[-0.2,0.2],"nice":false,"zero":false},"axis":{"orient":"left","values":[-0.2,-0.1,0,0.1,0.2],"tickSize":-15,"labelPadding":28,"labelExpr":"datum.value==0?'0':(datum.value<0?'-':'')+format(abs(datum.value),'.1f')","title":null}}}},{"data":{"name":"marker"},"mark":{"type":"rule","color":"black","strokeWidth":3},"encoding":{"x":{"field":"m","type":"quantitative","axis":{"orient":"bottom","values":[0.25,0.5,0.75,1.25,1.5,1.75],"tickSize":-7,"labels":false,"title":null}},"y":{"field":"lo","type":"quantitative","axis":{"orient":"left","values":[-0.18,-0.16,-0.14,-0.12,-0.08,-0.06,-0.04,-0.02,0.02,0.04,0.06,0.08,0.12,0.14,0.16,0.18],"tickSize":-7,"labels":false,"title":null}},"y2":{"field":"hi"}}},{"data":{"name":"marker"},"mark":{"type":"tick","orient":"horizontal","color":"black","size":30,"thickness":3,"opacity":1},"encoding":{"x":{"field":"m","type":"quantitative","axis":null},"y":{"field":"lo","type":"quantitative","axis":null}}},{"data":{"name":"marker"},"mark":{"type":"tick","orient":"horizontal","color":"black","size":30,"thickness":3,"opacity":1},"encoding":{"x":{"field":"m","type":"quantitative","axis":null},"y":{"field":"hi","type":"quantitative","axis":null}}},{"data":{"name":"marker"},"mark":{"type":"circle","size":900,"opacity":1,"color":"black"},"encoding":{"x":{"field":"m","type":"quantitative","axis":null},"y":{"field":"s","type":"quantitative","axis":null}}},{"data":{"name":"box2"},"mark":{"type":"rect","fill":"#00ff00","stroke":"#0000ff","strokeWidth":3},"encoding":{"x":{"field":"m","type":"quantitative","axis":null},"x2":{"field":"m2"},"y":{"field":"s","type":"quantitative","axis":null},"y2":{"field":"s2"}}},{"data":{"name":"lab2"},"mark":{"type":"text","fontSize":17.3,"color":"#0000ff"},"encoding":{"x":{"field":"m","type":"quantitative","axis":null},"y":{"field":"s","type":"quantitative","axis":null},"text":{"field":"t"}}},{"data":{"name":"sub2"},"mark":{"type":"text","fontSize":12,"color":"#0000ff"},"encoding":{"x":{"field":"m","type":"quantitative","axis":null},"y":{"field":"s","type":"quantitative","axis":null},"text":{"field":"t"}}}],"resolve":{"axis":{"x":"independent","y":"independent"}}},
{"width":194,"height":557,"layer":[{"data":{"name":"p3"},"mark":{"type":"circle","size":120,"opacity":1,"color":"#0000ff","clip":true},"encoding":{"x":{"field":"m","type":"quantitative","scale":{"domain":[0,2],"nice":false,"zero":false},"axis":{"orient":"bottom","values":[0,1,2],"tickSize":-15,"labelPadding":28,"format":".0f","title":"(tanβ=30)","titleFontSize":20.5,"titleColor":"#0000ff","titleX":1,"titleY":71,"titleBaseline":"alphabetic","titleAlign":"left"}},"y":{"field":"s","type":"quantitative","scale":{"domain":[-0.2,0.2],"nice":false,"zero":false},"axis":{"orient":"left","values":[-0.2,-0.1,0,0.1,0.2],"tickSize":-15,"labelPadding":28,"labelExpr":"datum.value==0?'0':(datum.value<0?'-':'')+format(abs(datum.value),'.1f')","title":null}}}},{"data":{"name":"marker"},"mark":{"type":"rule","color":"black","strokeWidth":3},"encoding":{"x":{"field":"m","type":"quantitative","axis":{"orient":"bottom","values":[0.25,0.5,0.75,1.25,1.5,1.75],"tickSize":-7,"labels":false,"title":null}},"y":{"field":"lo","type":"quantitative","axis":{"orient":"left","values":[-0.18,-0.16,-0.14,-0.12,-0.08,-0.06,-0.04,-0.02,0.02,0.04,0.06,0.08,0.12,0.14,0.16,0.18],"tickSize":-7,"labels":false,"title":null}},"y2":{"field":"hi"}}},{"data":{"name":"marker"},"mark":{"type":"tick","orient":"horizontal","color":"black","size":30,"thickness":3,"opacity":1},"encoding":{"x":{"field":"m","type":"quantitative","axis":null},"y":{"field":"lo","type":"quantitative","axis":null}}},{"data":{"name":"marker"},"mark":{"type":"tick","orient":"horizontal","color":"black","size":30,"thickness":3,"opacity":1},"encoding":{"x":{"field":"m","type":"quantitative","axis":null},"y":{"field":"hi","type":"quantitative","axis":null}}},{"data":{"name":"marker"},"mark":{"type":"circle","size":900,"opacity":1,"color":"black"},"encoding":{"x":{"field":"m","type":"quantitative","axis":null},"y":{"field":"s","type":"quantitative","axis":null}}},{"data":{"name":"box3"},"mark":{"type":"rect","fill":"#ffff00","stroke":"#0000ff","strokeWidth":3},"encoding":{"x":{"field":"m","type":"quantitative","axis":null},"x2":{"field":"m2"},"y":{"field":"s","type":"quantitative","axis":null},"y2":{"field":"s2"}}},{"data":{"name":"lab3"},"mark":{"type":"text","fontSize":17.3,"color":"#0000ff"},"encoding":{"x":{"field":"m","type":"quantitative","axis":null},"y":{"field":"s","type":"quantitative","axis":null},"text":{"field":"t"}}}],"resolve":{"axis":{"x":"independent","y":"independent"}}}
]}
